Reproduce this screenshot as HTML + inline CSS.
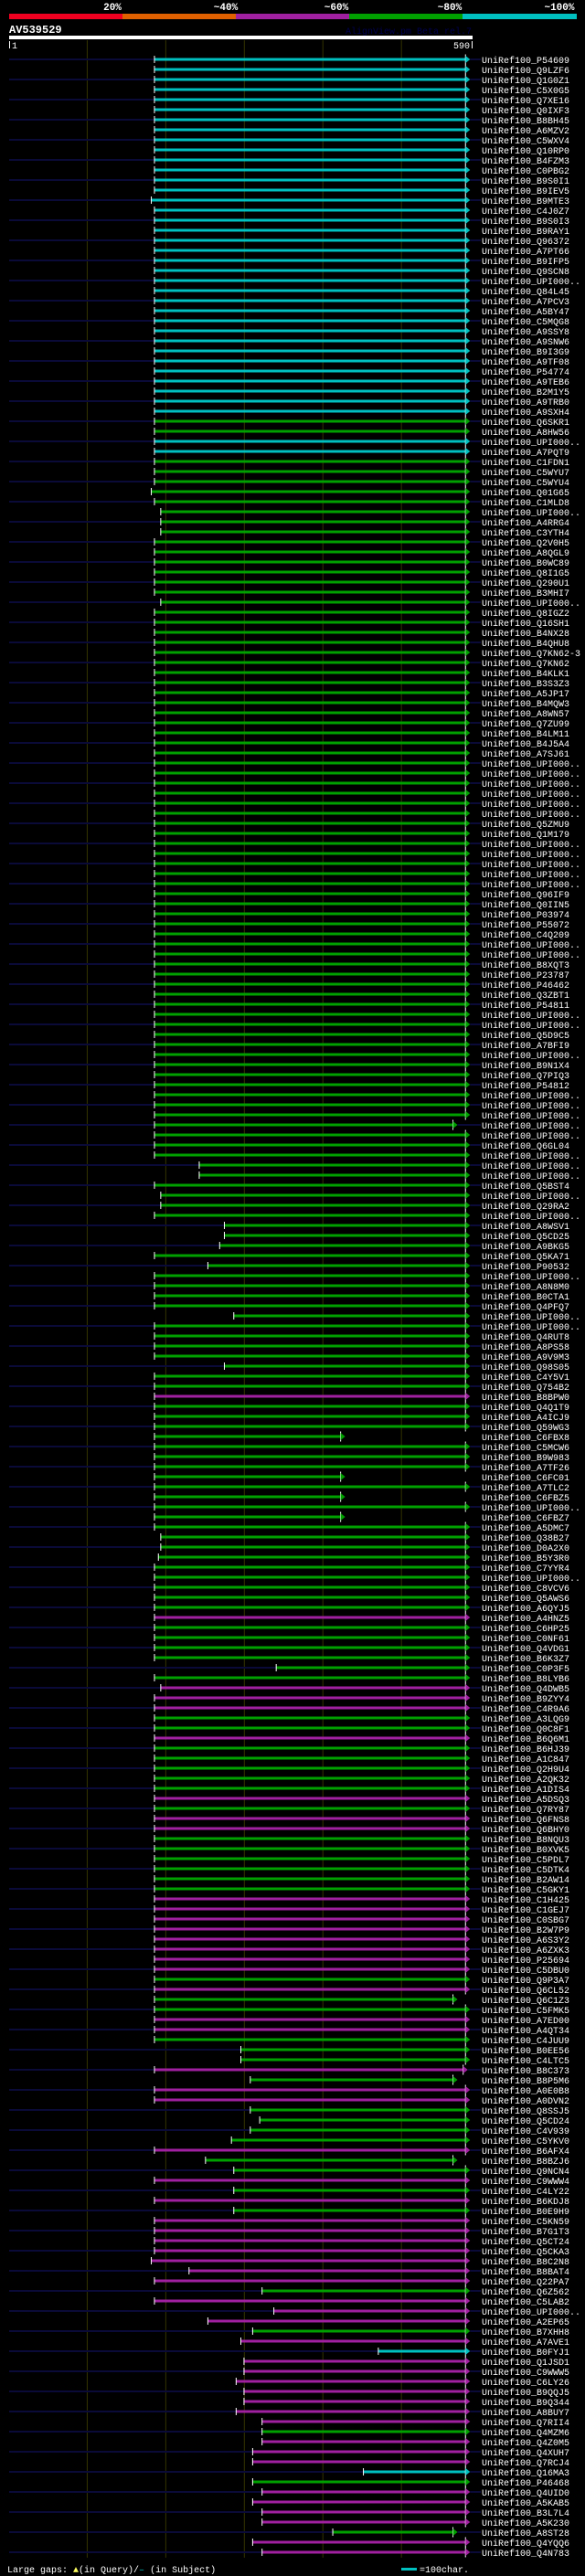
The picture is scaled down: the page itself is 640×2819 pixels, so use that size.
<!DOCTYPE html>
<html><head><meta charset="utf-8"><style>
html,body{margin:0;padding:0;background:#000;}
svg{display:block;}
text{font-family:"Liberation Mono",monospace;}
</style></head><body>
<svg id="chart" width="640" height="2819" viewBox="0 0 640 2819" xmlns="http://www.w3.org/2000/svg">
<rect x="0" y="0" width="640" height="2819" fill="#000"/>
<g>
<rect x="10" y="15" width="124" height="6" fill="#f00020"/>
<rect x="134" y="15" width="124" height="6" fill="#e06000"/>
<rect x="258" y="15" width="124" height="6" fill="#a020a0"/>
<rect x="382" y="15" width="124" height="6" fill="#00a000"/>
<rect x="506" y="15" width="125" height="6" fill="#00c0c0"/>
<g font-size="11" font-weight="bold" fill="#fff" text-anchor="middle">
<text x="123" y="11">20%</text>
<text x="247" y="11">~40%</text>
<text x="368" y="11">~60%</text>
<text x="492" y="11">~80%</text>
<text x="612" y="11">~100%</text>
</g></g>
<text x="10" y="36" font-size="12" font-weight="bold" fill="#fff">AV539529</text>
<text x="516" y="37" font-size="10" fill="#000050" text-anchor="end">AlignView.pm Beta rel.7</text>
<rect x="10" y="39" width="507" height="4" fill="#fff"/>
<rect x="10" y="45" width="1" height="8" fill="#fff"/>
<text x="13" y="53" font-size="10" fill="#fff">1</text>
<text x="514" y="53" font-size="10" fill="#fff" text-anchor="end">590</text>
<rect x="516" y="45" width="1" height="8" fill="#fff"/>
<g id="grid"></g>
<g id="rows"></g>
<g>
<text x="8" y="2815" font-size="10" fill="#fff">Large gaps: <tspan fill="#ffff60">▲</tspan>(in Query)/<tspan fill="#00c0c0">–</tspan> (in Subject)</text>
<rect x="439" y="2810" width="17" height="3" fill="#00c0c0"/>
<text x="459" y="2815" font-size="10" fill="#fff">=100char.</text>
</g>
</svg>
<script>
const labels = ["P54609","Q9LZF6","Q1G0Z1","C5X0G5","Q7XE16","Q0IXF3","B8BH45","A6MZV2","C5WXV4","Q10RP0",
"B4FZM3","C0PBG2","B9S0I1","B9IEV5","B9MTE3","C4J0Z7","B9S0I3","B9RAY1","Q96372","A7PT66",
"B9IFP5","Q9SCN8","UPI000..","Q84L45","A7PCV3","A5BY47","C5MQG8","A9SSY8","A9SNW6","B9I3G9",
"A9TF08","P54774","A9TEB6","B2M1Y5","A9TRB0","A9SXH4","Q6SKR1","A8HW56","UPI000..","A7PQT9",
"C1FDN1","C5WYU7","C5WYU4","Q01G65","C1MLD8","UPI000..","A4RRG4","C3YTH4","Q2V0H5","A8QGL9",
"B0WC89","Q8I1G5","Q290U1","B3MHI7","UPI000..","Q8IGZ2","Q16SH1","B4NX28","B4QHU8","Q7KN62-3",
"Q7KN62","B4KLK1","B3S3Z3","A5JP17","B4MQW3","A8WN57","Q7ZU99","B4LM11","B4J5A4","A7SJ61",
"UPI000..","UPI000..","UPI000..","UPI000..","UPI000..","UPI000..","Q5ZMU9","Q1M179","UPI000..","UPI000..",
"UPI000..","UPI000..","UPI000..","Q96IF9","Q0IIN5","P03974","P55072","C4Q209","UPI000..","UPI000..",
"B8XQT3","P23787","P46462","Q3ZBT1","P54811","UPI000..","UPI000..","Q5D9C5","A7BFI9","UPI000..",
"B9N1X4","Q7PIQ3","P54812","UPI000..","UPI000..","UPI000..","UPI000..","UPI000..","Q6GL04","UPI000..",
"UPI000..","UPI000..","Q5BST4","UPI000..","Q29RA2","UPI000..","A8WSV1","Q5CD25","A9BKG5","Q5KA71",
"P90532","UPI000..","A8N8M0","B0CTA1","Q4PFQ7","UPI000..","UPI000..","Q4RUT8","A8PS58","A9V9M3",
"Q98S05","C4Y5V1","Q754B2","B8BPW0","Q4Q1T9","A4ICJ9","Q59WG3","C6FBX8","C5MCW6","B9W983",
"A7TF26","C6FC01","A7TLC2","C6FBZ5","UPI000..","C6FBZ7","A5DMC7","Q38B27","D0A2X0","B5Y3R0",
"C7YYR4","UPI000..","C8VCV6","Q5AWS6","A6QYJ5","A4HNZ5","C6HP25","C0NF61","Q4VDG1","B6K3Z7",
"C0P3F5","B8LYB6","Q4DWB5","B9ZYY4","C4R9A6","A3LQG9","Q0C8F1","B6Q6M1","B6HJ39","A1C847",
"Q2H9U4","A2QK32","A1DIS4","A5DSQ3","Q7RY87","Q6FNS8","Q6BHY0","B8NQU3","B0XVK5","C5PDL7",
"C5DTK4","B2AW14","C5GKY1","C1H425","C1GEJ7","C0SBG7","B2W7P9","A6S3Y2","A6ZXK3","P25694",
"C5DBU0","Q9P3A7","Q6CL52","Q6C1Z3","C5FMK5","A7ED00","A4QT34","C4JUU9","B0EE56","C4LTC5",
"B8C373","B8P5M6","A0E0B8","A0DVN2","Q8SSJ5","Q5CD24","C4V939","C5YKV0","B6AFX4","B8BZJ6",
"Q9NCN4","C9WWW4","C4LY22","B6KDJ8","B0E9H9","C5KN59","B7G1T3","Q5CT24","Q5CKA3","B8C2N8",
"B8BAT4","Q22PA7","Q6Z562","C5LAB2","UPI000..","A2EP65","B7XHH8","A7AVE1","B0FYJ1","Q1JSD1",
"C9WWW5","C6LY26","B9QQJ5","B9Q344","A8BUY7","Q7RII4","Q4MZM6","Q4Z0M5","Q4XUH7","Q7RCJ4",
"Q16MA3","P46468","Q4UID0","A5KAB5","B3L7L4","A5K230","A8ST28","Q4YQQ6","Q4N783"];
const starts = [185,185,185,185,185,185,185,185,185,185,
185,185,185,185,181,185,185,185,185,185,
185,185,185,185,185,185,185,185,185,185,
185,185,185,185,185,185,185,185,185,185,
185,185,185,181,185,193,193,193,185,185,
185,185,185,185,193,185,185,185,185,185,
185,185,185,185,185,185,185,185,185,185,
185,185,185,185,185,185,185,185,185,185,
185,185,185,185,185,185,185,185,185,185,
185,185,185,185,185,185,185,185,185,185,
185,185,185,185,185,185,185,185,185,185,
242,242,185,193,193,185,274,274,268,185,
253,185,185,185,185,286,185,185,185,185,
274,185,185,185,185,185,185,185,185,185,
185,185,185,185,185,185,185,193,193,190,
185,185,185,185,185,185,185,185,185,185,
340,185,193,185,185,185,185,185,185,185,
185,185,185,185,185,185,185,185,185,185,
185,185,185,185,185,185,185,185,185,185,
185,185,185,185,185,185,185,185,295,295,
185,307,185,185,307,319,307,283,185,250,
286,185,286,185,286,185,185,185,185,181,
229,185,322,185,337,253,310,295,470,299,
299,289,299,299,289,322,322,322,310,310,
451,310,322,310,322,322,412,310,322];
const ends = [581,581,581,581,581,581,581,581,581,581,
581,581,581,581,581,581,581,581,581,581,
581,581,581,581,581,581,581,581,581,581,
581,581,581,581,581,581,581,581,581,581,
581,581,581,581,581,581,581,581,581,581,
581,581,581,581,581,581,581,581,581,581,
581,581,581,581,581,581,581,581,581,581,
581,581,581,581,581,581,581,581,581,581,
581,581,581,581,581,581,581,581,581,581,
581,581,581,581,581,581,581,581,581,581,
581,581,581,581,581,581,565,581,581,581,
581,581,581,581,581,581,581,581,581,581,
581,581,581,581,581,581,581,581,581,581,
581,581,581,581,581,581,581,422,581,581,
581,422,581,422,581,422,581,581,581,581,
581,581,581,581,581,581,581,581,581,581,
581,581,581,581,581,581,581,581,581,581,
581,581,581,581,581,581,581,581,581,581,
581,581,581,581,581,581,581,581,581,581,
581,581,581,565,581,581,581,581,581,581,
578,565,581,581,581,581,581,581,581,565,
581,581,581,581,581,581,581,581,581,581,
581,581,581,581,581,581,581,581,581,581,
581,581,581,581,581,581,581,581,581,581,
581,581,581,581,581,581,565,581,581];
const colorCodes = ("c".repeat(36) + "ggcc" + "g".repeat(93) + "m" + "g".repeat(21) + "m" + "g".repeat(6) +
  "mmmggm" + "ggggg" + "mgmm" + "gggggg" + "mmmmmmmm" + "gmggmmggg" + "mgmmggggmg" + "gmgmgmmmmm" +
  "mmgmmmgmcm" + "mmmmmmgmmm" + "cgmmmmgmm").split("");
const queryLength = 590;
const gridTicks = [100, 200, 300, 400, 500];

const NS = "http://www.w3.org/2000/svg";
const X0 = 10, XW = 507, Y0 = 65, ROW = 11;
const palette = {c: "#00c0c0", g: "#00a000", m: "#a020a0"};
function xs(p){ return X0 + p * XW / queryLength; }
function ys(i){ return Y0 + i * ROW; }
function mk(tag, attrs){ const e = document.createElementNS(NS, tag); for (const k in attrs) e.setAttribute(k, attrs[k]); return e; }

const grid = document.getElementById("grid");
gridTicks.forEach(function(t){
  const l = mk("line", {x1: xs(t) - 0.5, x2: xs(t) - 0.5, y1: 44, y2: ys(labels.length - 1) + 6, stroke: "#333300", "stroke-width": 1});
  
  
  grid.appendChild(l);
});

const rowsG = document.getElementById("rows");
labels.forEach(function(lab, i){
  const y = ys(i);
  const g = mk("g", {});
  
  
  const col = palette[colorCodes[i]] || palette.g;
  const sx = xs(starts[i]), ex = xs(ends[i]);
  if (i % 2 === 0) {
    const bg = mk("rect", {x: X0, y: y - 1, width: sx - X0, height: 2, fill: "#0a0a38"});
    
    
    g.appendChild(bg);
    const stub = mk("rect", {x: ex + 5, y: y - 1, width: Math.max(0, 526 - ex - 5), height: 2, fill: "#0a0a38"});
    
    
    g.appendChild(stub);
  }
  const bar = mk("rect", {x: sx, y: y - 1.5, width: ex - sx, height: 3, fill: col});
  
  
  g.appendChild(bar);
  const tick = mk("rect", {x: sx - 0.5, y: y - 4, width: 1, height: 8, fill: "#fff"});
  
  
  g.appendChild(tick);
  const endl = mk("rect", {x: ex - 0.5, y: y - 5.5, width: 1, height: 11, fill: "#fff"});
  
  
  g.appendChild(endl);
  const arr = mk("polygon", {points: (ex) + "," + (y - 4) + " " + (ex + 5) + "," + y + " " + (ex) + "," + (y + 4), fill: col});
  
  
  g.appendChild(arr);
  const t = mk("text", {x: 527, y: y + 4, "font-size": 10, fill: "#fff"});
  t.textContent = "UniRef100_" + lab;
  
  
  g.appendChild(t);
  rowsG.appendChild(g);
});
</script>
</body></html>
